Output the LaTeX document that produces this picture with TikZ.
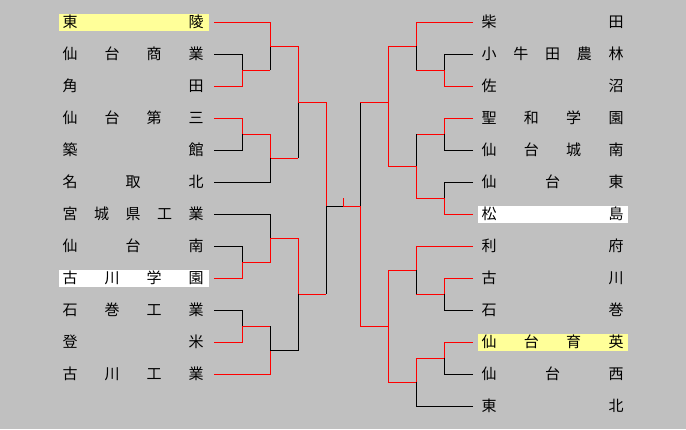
\documentclass[tikz,border=0pt]{standalone}
\usepackage{fontspec}
\newfontfamily\cjk{Noto Sans CJK JP}
\definecolor{bg}{HTML}{C0C0C0}
\definecolor{hl}{HTML}{FFFF99}
\definecolor{rd}{HTML}{FF0000}
\begin{document}
\begin{tikzpicture}[x=1pt,y=-1pt,
  ch/.style={font=\cjk\fontsize{15}{15}\selectfont,inner sep=0pt,anchor=center},
  rl/.style={draw=rd,line width=1pt},
  bl/.style={draw=black,line width=1pt},
  hlbox/.style={fill=hl},
  wbox/.style={fill=white}]
\fill[bg] (0,0) rectangle (686,429);
\useasboundingbox (0,0) rectangle (686,429);
% highlight boxes
\fill[hlbox] (59,14) rectangle (209,31);
\fill[wbox] (59,270) rectangle (209,287);
\fill[wbox] (478,206) rectangle (628,223);
\fill[hlbox] (478,334) rectangle (628,351);
% names
\def\team#1#2#3#4{% x0, x1, y, list
  \foreach \c [count=\i] in {#4} {\global\let\n\i}%
  \foreach \c [count=\i] in {#4} {%
    \pgfmathsetmacro\xx{#1+(#2-#1)*(\i-1)/(\n-1)}%
    \node[ch] at (\xx,#3) {\c};}}
\team{70}{196}{22}{東,陵}
\team{70}{196}{54}{仙,台,商,業}
\team{70}{196}{86}{角,田}
\team{70}{196}{118}{仙,台,第,三}
\team{70}{196}{150}{築,館}
\team{70}{196}{182}{名,取,北}
\team{70}{196}{214}{宮,城,県,工,業}
\team{70}{196}{246}{仙,台,南}
\team{70}{196}{278}{古,川,学,園}
\team{70}{196}{310}{石,巻,工,業}
\team{70}{196}{342}{登,米}
\team{70}{196}{374}{古,川,工,業}
\team{489}{616}{22}{柴,田}
\team{489}{616}{54}{小,牛,田,農,林}
\team{489}{616}{86}{佐,沼}
\team{489}{616}{118}{聖,和,学,園}
\team{489}{616}{150}{仙,台,城,南}
\team{489}{616}{182}{仙,台,東}
\team{489}{616}{214}{松,島}
\team{489}{616}{246}{利,府}
\team{489}{616}{278}{古,川}
\team{489}{616}{310}{石,巻}
\team{489}{616}{342}{仙,台,育,英}
\team{489}{616}{374}{仙,台,西}
\team{489}{616}{406}{東,北}
% left bracket
\path[rl] (214,22)--(270,22)--(270,46);
\path[bl] (214,54)--(242,54)--(242,70);
\path[rl] (214,86)--(242,86)--(242,70)--(270,70);
\path[bl] (270,70)--(270,46);
\path[rl] (270,46)--(298,46)--(298,102);
\path[rl] (214,118)--(242,118)--(242,134)--(270,134)--(270,158)--(298,158);
\path[bl] (214,150)--(242,150)--(242,134);
\path[bl] (214,182)--(270,182)--(270,158);
\path[bl] (298,158)--(298,102);
\path[rl] (298,102)--(326,102)--(326,206);
\path[bl] (214,214)--(270,214)--(270,238);
\path[bl] (214,246)--(242,246)--(242,262);
\path[rl] (214,278)--(242,278)--(242,262)--(270,262)--(270,238)--(298,238)--(298,294)--(326,294);
\path[bl] (326,294)--(326,206);
\path[bl] (214,310)--(242,310)--(242,326);
\path[rl] (214,342)--(242,342)--(242,326)--(270,326);
\path[bl] (270,326)--(270,350);
\path[rl] (214,374)--(270,374)--(270,350);
\path[bl] (270,350)--(298,350)--(298,294);
% center
\path[bl] (326,206)--(343,206);
\path[rl] (343,206)--(360,206);
\path[rl] (343,198)--(343,206);
\path[bl] (360,206)--(360,102);
\path[rl] (360,206)--(360,326);
% right bracket
\path[rl] (473,22)--(416,22)--(416,46);
\path[bl] (416,46)--(416,70);
\path[bl] (473,54)--(444,54)--(444,70);
\path[rl] (473,86)--(444,86)--(444,70)--(416,70);
\path[rl] (416,46)--(388,46)--(388,102)--(360,102);
\path[bl] (388,46)--(388,46);
\path[rl] (473,118)--(444,118)--(444,134)--(416,134);
\path[bl] (473,150)--(444,150)--(444,134);
\path[bl] (416,134)--(416,166);
\path[bl] (473,182)--(444,182)--(444,198);
\path[rl] (473,214)--(444,214)--(444,198)--(416,198)--(416,166)--(388,166)--(388,102);
\path[rl] (473,246)--(416,246)--(416,270);
\path[bl] (416,270)--(416,294);
\path[rl] (473,278)--(444,278)--(444,294)--(416,294);
\path[bl] (473,310)--(444,310)--(444,294);
\path[rl] (416,270)--(388,270)--(388,382)--(416,382)--(416,358)--(444,358)--(444,342)--(473,342);
\path[rl] (388,326)--(360,326);
\path[bl] (473,374)--(444,374)--(444,358);
\path[bl] (473,406)--(416,406)--(416,382);
\end{tikzpicture}
\end{document}
